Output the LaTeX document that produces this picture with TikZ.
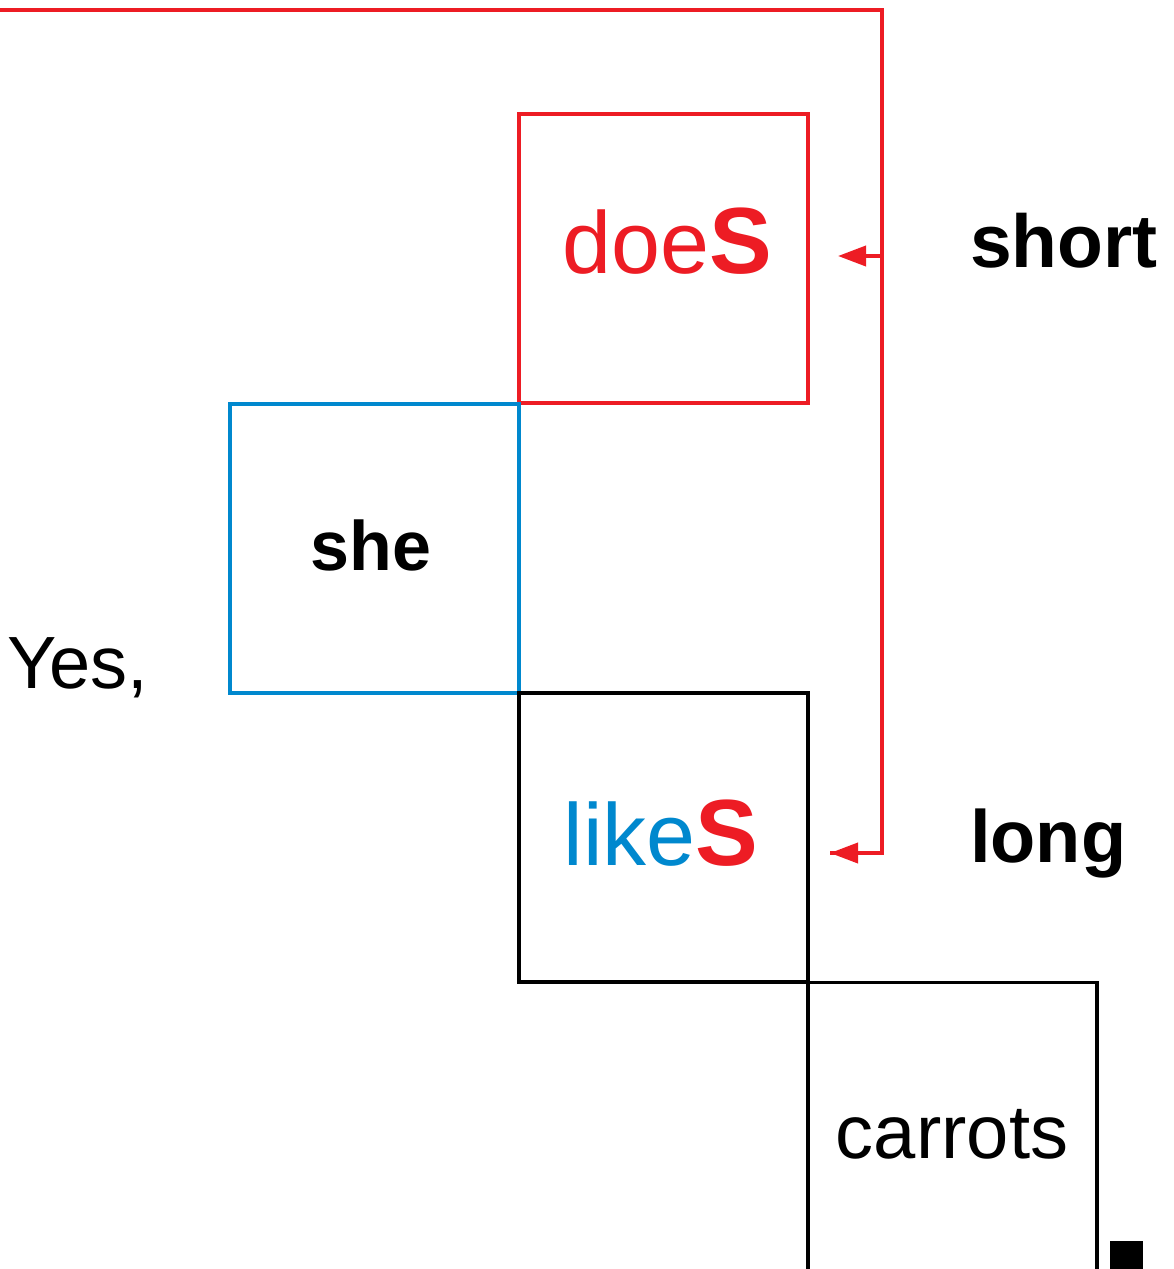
\documentclass[tikz,border=0pt]{standalone}
\usepackage{fontspec}
\setmainfont{Liberation Sans}
\usetikzlibrary{arrows.meta}
\definecolor{myred}{RGB}{237,28,36}
\definecolor{myblue}{RGB}{0,136,206}
\begin{document}
\begin{tikzpicture}[x=1pt,y=-1pt,
  sq/.style={draw,line width=3.6pt,minimum size=289pt,inner sep=0pt,outer sep=0pt},
  txt/.style={inner sep=0pt,outer sep=0pt,anchor=base},
  redline/.style={draw=myred,line width=3.8pt},
  redarrow/.style={redline,-{Triangle[length=28pt,width=20pt]}}]
\useasboundingbox (0,0) rectangle (1173,1269);
% boxes
\node[sq,draw=myred] (does) at (663.5,258.5) {};
\node[sq,draw=myblue] (she) at (374.5,548.5) {};
\node[sq,draw=black] (likes) at (663.5,837.5) {};
\node[sq,draw=black] (carrots) at (952.5,1127) {};
% texts
\node[txt] (tdoes) at (667,273) {\color{myred}{\fontsize{88}{88}\selectfont doe}{\fontsize{94}{94}\selectfont\bfseries S}};
\node[txt] (tlikes) at (661,865) {{\color{myblue}\fontsize{88}{88}\selectfont like}{\color{myred}\fontsize{94}{94}\selectfont\bfseries S}};
\node[txt] (tshe) at (371,570) {\fontsize{70}{70}\selectfont\bfseries she};
\node[txt] (tcarrots) at (952,1158) {\fontsize{76}{76}\selectfont carrots};
\node[txt,anchor=base west] (tyes) at (7,688) {\fontsize{74}{74}\selectfont Yes,};
\node[txt,anchor=base west] (tshort) at (970,267) {\fontsize{75}{75}\selectfont\bfseries short};
\node[txt,anchor=base west] (tlong) at (970,862) {\fontsize{74}{74}\selectfont\bfseries long};
% red connector
\coordinate (start) at (-5,10);
\coordinate (corner) at (882,10);
\coordinate (split) at (882,256);
\coordinate (bend) at (882,853);
\coordinate (tipA) at (838,256);
\coordinate (tipB) at (830,853);
\draw[redline,line join=miter] (start) -- (corner) -- (bend) -- (bend -| tipB);
\draw[redarrow] (split) -- (tipA);
\draw[redarrow] (bend) -- (tipB);
% end mark
\fill[black] (1110,1241) rectangle (1143,1275);
\end{tikzpicture}
\end{document}
